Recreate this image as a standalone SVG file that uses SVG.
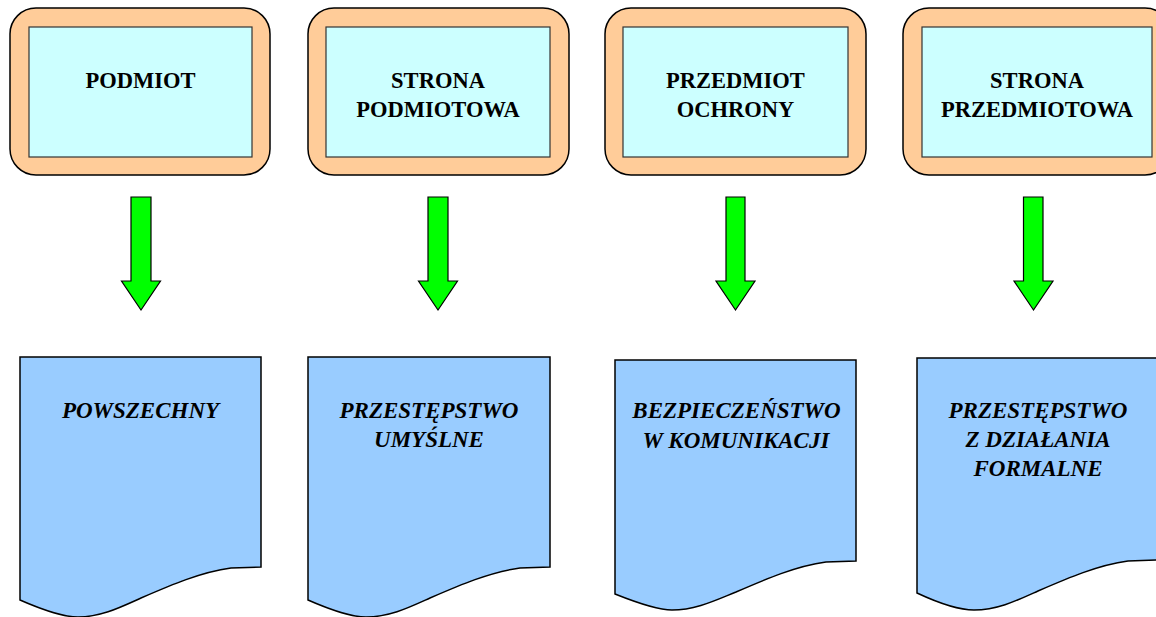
<svg xmlns="http://www.w3.org/2000/svg" width="1156" height="617" viewBox="0 0 1156 617">
  <style>
    .outer { fill: #FFCC99; stroke: #000; stroke-width: 1.5; }
    .inner { fill: #CCFFFF; stroke: #333; stroke-width: 1.2; }
    .doc { fill: #99CCFF; stroke: #000; stroke-width: 1.5; }
    .arrow { fill: #00FF00; stroke: #000; stroke-width: 1.2; stroke-linejoin: miter; }
    .t { font-family: "Liberation Serif", "DejaVu Serif", serif; font-weight: bold; font-size: 22.5px; fill: #000; text-anchor: middle; }
    .ti { font-family: "Liberation Serif", "DejaVu Serif", serif; font-weight: bold; font-style: italic; font-size: 23px; fill: #000; text-anchor: middle; }
  </style>
  <rect width="1156" height="617" fill="#fff"/>

  <g id="node-podmiot">
    <rect class="outer" x="10" y="8" width="260" height="167" rx="26" ry="26"/>
    <rect class="inner" x="29" y="27" width="223" height="130"/>
    <text class="t" x="140.5" y="88">PODMIOT</text>
  </g>
  <g id="node-strona-podmiotowa">
    <rect class="outer" x="308" y="8" width="261" height="167" rx="26" ry="26"/>
    <rect class="inner" x="326" y="27" width="224" height="130"/>
    <text class="t" x="438" y="88">STRONA</text>
    <text class="t" x="438" y="117">PODMIOTOWA</text>
  </g>
  <g id="node-przedmiot-ochrony">
    <rect class="outer" x="605" y="8" width="261" height="167" rx="26" ry="26"/>
    <rect class="inner" x="623" y="27" width="225" height="130"/>
    <text class="t" x="735.5" y="88">PRZEDMIOT</text>
    <text class="t" x="735.5" y="117">OCHRONY</text>
  </g>
  <g id="node-strona-przedmiotowa">
    <rect class="outer" x="903" y="8" width="268" height="167" rx="26" ry="26"/>
    <rect class="inner" x="922" y="27" width="230" height="130"/>
    <text class="t" x="1037" y="88">STRONA</text>
    <text class="t" x="1037" y="117">PRZEDMIOTOWA</text>
  </g>

  <g id="connectors">
    <polygon class="arrow" points="131,197 151,197 151,281 160.5,281 141,310 121.5,281 131,281"/>
    <polygon class="arrow" points="428,197 448,197 448,281 457.5,281 438,310 418.5,281 428,281"/>
    <polygon class="arrow" points="726,197 745,197 745,281 755,281 735.5,310 716,281 726,281"/>
    <polygon class="arrow" points="1023.5,197 1043,197 1043,281 1053,281 1033.5,310 1014,281 1023.5,281"/>
  </g>

  <g id="node-powszechny">
    <path class="doc" d="M20,357 H261 V567 L231,568 C201,572 171,585 141,598 C121,607 101,617 78,617 C61,617 36,607 20,600 Z"/>
    <text class="ti" x="140.5" y="418">POWSZECHNY</text>
  </g>
  <g id="node-przestepstwo-umyslne">
    <path class="doc" d="M308,357 H550 V567 L520,568 C490,572 460,585 430,598 C410,607 390,617 366,617 C349,617 324,607 308,600 Z"/>
    <text class="ti" x="429" y="418">PRZESTĘPSTWO</text>
    <text class="ti" x="429" y="447">UMYŚLNE</text>
  </g>
  <g id="node-bezpieczenstwo">
    <path class="doc" d="M615,360 H856 V561 L826,562 C796,566 766,579 736,592 C716,600 696,610 672,610 C655,610 630,600 615,594 Z"/>
    <text class="ti" x="736.5" y="418">BEZPIECZEŃSTWO</text>
    <text class="ti" x="736" y="448">W KOMUNIKACJI</text>
  </g>
  <g id="node-przestepstwo-formalne">
    <path class="doc" d="M917,358 H1158 V560 L1128,561 C1098,565 1068,578 1038,591 C1018,600 998,610 974,610 C957,610 932,600 917,593 Z"/>
    <text class="ti" x="1038" y="418">PRZESTĘPSTWO</text>
    <text class="ti" x="1038" y="447">Z DZIAŁANIA</text>
    <text class="ti" x="1038" y="476">FORMALNE</text>
  </g>
</svg>
